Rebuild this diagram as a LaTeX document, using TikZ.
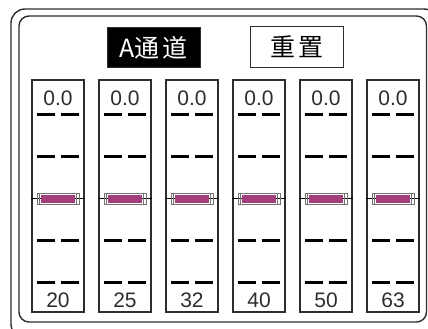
\documentclass[tikz,border=0pt]{standalone}
\usepackage{fontspec}
\setmainfont{Liberation Sans}
\newfontfamily\cjk{Noto Sans CJK SC}
\definecolor{knobpink}{RGB}{163,62,124}
\definecolor{linegray}{RGB}{45,45,45}
\begin{document}
\begin{tikzpicture}[x=1pt, y=-1pt,
    frame line/.style={draw=linegray, line width=1.4pt},
    title box/.style={draw=linegray, line width=1pt, minimum width=93pt, minimum height=40pt, inner sep=0pt, font=\cjk\fontsize{25}{25}\selectfont},
    slider box/.style={draw=linegray, line width=1.2pt, minimum width=52pt, minimum height=232pt, inner sep=0pt},
    tick mark/.style={black, line width=3pt},
    knob/.style={draw=black!55, line width=0.6pt, minimum width=42pt, minimum height=11pt, inner sep=0pt},
    value/.style={font=\fontsize{21}{21}\selectfont, inner sep=0pt, text=linegray}]
  \useasboundingbox (0,0) rectangle (428,329);
  % panel frame
  \draw[frame line, rounded corners=14pt] (11,9) rectangle (438,338);
  \draw[frame line, rounded corners=10pt] (19,16) rectangle (426.5,322);
  % header
  \node[title box, fill=black, text=white] (chan) at (153.5,47.5) {A通\hspace{3pt}道};
  \node[title box] (reset) at (296.5,47) {重\hspace{3pt}置};
  % sliders
  \foreach \i/\f in {0/20,1/25,2/32,3/40,4/50,5/63} {
    \pgfmathsetmacro\cx{58+67*\i}
    \node[slider box] (s\i) at (\cx,196) {};
    \node[value] (top\i) at (\cx,98) {0.0};
    \node[value] (hz\i) at (\cx,300) {\f};
    \foreach \y in {114,156,240,282} {
      \draw[tick mark] (\cx-21,\y) -- ++(18,0);
      \draw[tick mark] (\cx+3,\y) -- ++(18,0);
    }
    \draw[black, line width=0.8pt] (s\i.west |- 0,198) -- (s\i.east |- 0,198);
    \node[knob] (k\i) at (\cx,198.5) {};
    \fill[knobpink] (\cx-17,195) rectangle (\cx+17,203);
    \draw[black!55, line width=0.6pt] (\cx-18.5,193) -- (\cx-18.5,204)
                                      (\cx+18.5,193) -- (\cx+18.5,204);
  }
\end{tikzpicture}
\end{document}
